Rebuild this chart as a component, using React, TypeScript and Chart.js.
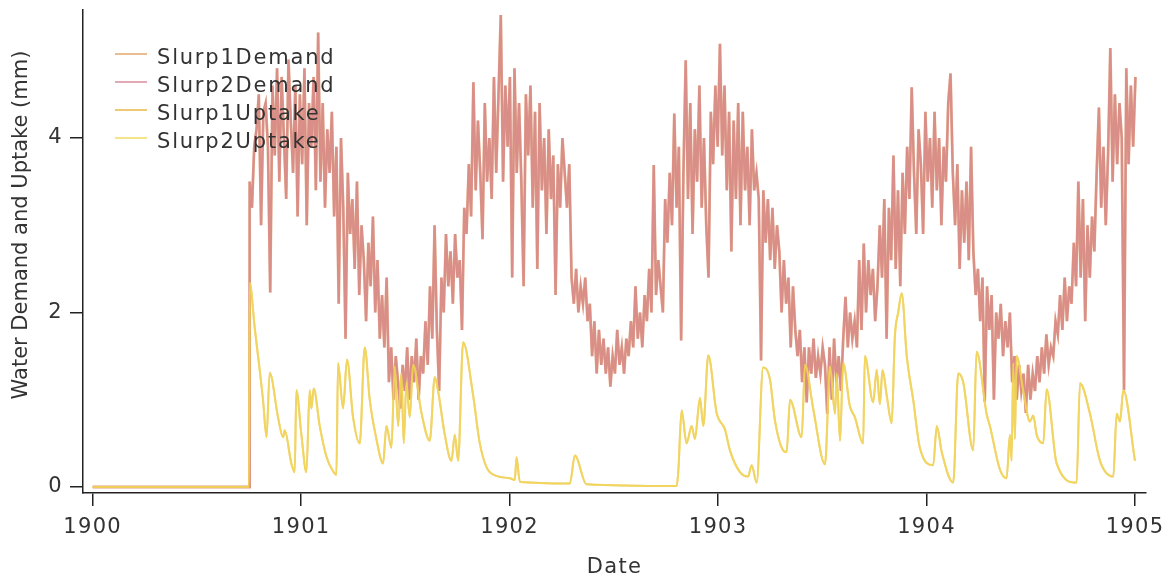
import React, { useEffect, useRef } from "react";
import { Chart, registerables } from "chart.js";

Chart.register(...registerables);

// ---------- data ----------
const seriesNames = ["Slurp1Demand", "Slurp2Demand", "Slurp1Uptake", "Slurp2Uptake"];
const xTickYears = [1900, 1901, 1902, 1903, 1904, 1905];
const yTickValues = [0, 2, 4];
const xTitle = "Date";
const yTitle = "Water Demand and Uptake (mm)";

// demand is zero until the crop emerges, then sampled every 4 days
const demandLeadYears = [1900.0, 1900.75];
const demandLeadValues = [0, 0];
const demandStartYear = 1900.753;
const demandStepDays = 4;
const slurp1Demand = [
  // 1900.75 - 1901.1
  3.5, 3.2, 3.9, 4.1, 4.5, 3.0, 4.3, 4.4, 3.9, 2.23,
  4.6, 3.8, 4.8, 3.5, 4.7, 4.0, 3.3, 4.9, 4.2, 3.6,
  4.6, 3.1, 4.5, 3.7, 4.8, 3.0, 4.4, 3.9, 4.7, 3.4,
  5.21, 3.5, 4.4, 3.2, 4.1, 3.6, 4.3, 3.1, 3.9, 2.1,
  4.0, 3.2, 1.7, 3.6, 2.9, 3.3, 2.5, 3.5, 2.2, 3.0,
  // 1901.3 - 1901.75
  2.6, 1.9, 2.8, 2.3, 3.1, 2.0, 2.6, 1.7, 2.2, 1.6,
  2.4, 1.2, 1.6, 1.0, 1.5, 1.2, 0.9, 1.4, 1.1, 1.6,
  1.0, 1.5, 1.2, 1.7, 1.0, 1.5, 1.3, 1.9, 1.4, 2.3,
  1.7, 3.0, 1.8, 1.1, 2.4, 2.0, 2.9, 2.3, 2.7, 2.1,
  2.9, 2.4, 2.6, 1.8, 3.2, 2.9, 3.7, 3.1, 4.64, 3.4,
  // 1901.85 - 1902.4
  4.2, 3.6, 2.84, 4.4, 3.5, 4.0, 3.3, 4.7, 3.6, 4.5,
  5.41, 3.5, 4.6, 3.9, 4.7, 2.4, 4.8, 3.6, 4.4, 3.5,
  2.3, 4.5, 3.8, 4.6, 3.2, 4.3, 2.5, 4.4, 3.4, 4.0,
  2.9, 4.1, 3.3, 3.8, 2.2, 3.7, 3.2, 4.0, 3.6, 3.2,
  3.7, 2.4, 2.1, 2.5, 2.0, 2.3, 2.1, 2.4, 1.9, 2.1,
  // 1902.4 - 1902.9
  1.5, 1.9, 1.3, 1.8, 1.4, 1.7, 1.3, 1.6, 1.15, 1.5,
  1.3, 1.8, 1.4, 1.6, 1.3, 1.7, 1.5, 1.9, 1.6, 2.3,
  1.7, 2.0, 1.6, 2.2, 1.9, 2.5, 2.0, 3.69, 2.2, 2.6,
  2.3, 2.0, 3.3, 2.8, 3.6, 3.0, 4.28, 3.2, 3.9, 1.68,
  3.6, 4.89, 3.3, 4.4, 2.9, 4.1, 3.5, 4.6, 3.2, 4.0,
  // 1902.95 - 1903.45
  3.0, 2.4, 4.3, 3.7, 4.6, 3.9, 5.08, 3.8, 4.6, 3.4,
  4.3, 2.7, 4.2, 3.3, 4.4, 3.0, 4.3, 3.4, 3.9, 3.0,
  4.1, 3.4, 3.6, 3.3, 1.45, 3.4, 2.8, 3.3, 2.6, 3.2,
  2.5, 3.0, 2.7, 2.0, 2.6, 2.1, 2.4, 1.6, 2.3, 1.8,
  1.5, 1.8, 1.2, 1.6, 0.97, 1.6, 1.3, 1.7, 1.25, 1.5,
  // 1903.5 - 1904.0
  1.3, 1.6, 1.4, 0.84, 1.6, 1.0, 1.7, 1.2, 1.5, 1.1,
  1.7, 2.18, 1.6, 2.0, 1.7, 1.9, 1.6, 2.6, 1.8, 2.79,
  2.0, 2.6, 2.2, 2.5, 1.9, 2.3, 3.0, 2.4, 3.3, 1.7,
  3.2, 2.6, 3.8, 2.5, 3.4, 2.3, 3.6, 2.9, 3.9, 3.3,
  4.58, 3.6, 2.9, 4.1, 3.7, 2.9, 4.3, 3.5, 4.0, 3.2,
  // 1904.05 - 1904.55
  4.3, 3.4, 4.0, 3.0, 3.9, 3.5, 4.4, 4.74, 3.6, 3.0,
  3.7, 2.5, 3.4, 2.8, 3.5, 2.6, 3.9, 2.7, 2.2, 2.5,
  1.9, 2.4, 0.98, 2.3, 1.8, 2.2, 1.0, 2.0, 1.7, 2.1,
  1.5, 1.9, 1.6, 2.0, 1.2, 1.5, 1.0, 1.4, 1.1, 1.3,
  0.85, 1.4, 1.0, 1.3, 1.1, 1.5, 1.2, 1.6, 1.3, 1.75,
  // 1904.6 - 1905.0
  1.4, 1.6, 1.5, 1.9, 1.75, 2.2, 1.8, 2.4, 1.9, 2.3,
  2.1, 2.8, 2.3, 3.5, 2.4, 3.3, 1.9, 3.0, 2.4, 3.1,
  2.7, 3.6, 4.35, 3.2, 3.9, 3.0, 3.8, 5.03, 3.5, 4.5,
  3.7, 4.4, 4.0, 1.11, 4.8, 3.7, 4.6, 3.9, 4.7,
];
// the two demand series lie on top of each other
const slurp2Demand = slurp1Demand;

const uptakeYears = [
  1900.0, 1900.75, 1900.753, 1900.777, 1900.817, 1900.834, 1900.849, 1900.889, 1900.913, 1900.921,
  1900.953, 1900.969, 1900.977, 1901.001, 1901.025, 1901.041, 1901.049, 1901.06, 1901.089, 1901.121,
  1901.153, 1901.169, 1901.177, 1901.201, 1901.22, 1901.249, 1901.281, 1901.305, 1901.329, 1901.361,
  1901.393, 1901.409, 1901.433, 1901.449, 1901.465, 1901.481, 1901.492, 1901.505, 1901.521, 1901.537,
  1901.577, 1901.617, 1901.641, 1901.657, 1901.689, 1901.721, 1901.737, 1901.753, 1901.777, 1901.825,
  1901.857, 1901.905, 1902.001, 1902.025, 1902.033, 1902.049, 1902.289, 1902.313, 1902.369, 1902.801,
  1902.809, 1902.825, 1902.849, 1902.873, 1902.889, 1902.913, 1902.929, 1902.953, 1902.993, 1903.033,
  1903.057, 1903.105, 1903.144, 1903.161, 1903.185, 1903.216, 1903.249, 1903.273, 1903.312, 1903.329,
  1903.345, 1903.401, 1903.417, 1903.456, 1903.513, 1903.537, 1903.561, 1903.569, 1903.585, 1903.6,
  1903.632, 1903.656, 1903.696, 1903.704, 1903.744, 1903.761, 1903.776, 1903.789, 1903.809, 1903.833,
  1903.848, 1903.864, 1903.881, 1903.905, 1903.936, 1903.968, 1904.032, 1904.049, 1904.073, 1904.128,
  1904.152, 1904.176, 1904.224, 1904.24, 1904.288, 1904.304, 1904.352, 1904.384, 1904.4, 1904.408,
  1904.416, 1904.424, 1904.432, 1904.464, 1904.496, 1904.512, 1904.528, 1904.56, 1904.576, 1904.624,
  1904.72, 1904.736, 1904.784, 1904.832, 1904.896, 1904.912, 1904.928, 1904.944, 1905.0,
];
const slurp1Uptake = [
  0, 0, 2.34, 1.83, 1.0, 0.57, 1.31, 0.8, 0.57, 0.65,
  0.27, 0.17, 1.11, 0.6, 0.17, 1.11, 0.9, 1.13, 0.7, 0.35,
  0.18, 0.14, 1.42, 0.9, 1.46, 0.8, 0.5, 1.6, 1.0, 0.55,
  0.27, 0.7, 0.45, 1.38, 0.7, 1.3, 0.5, 1.2, 0.8, 1.4,
  0.85, 0.53, 1.26, 1.1, 0.6, 0.3, 0.6, 0.3, 1.66, 1.05,
  0.5, 0.17, 0.1, 0.08, 0.34, 0.06, 0.04, 0.36, 0.03, 0.01,
  0.17, 0.88, 0.5, 0.7, 0.55, 1.02, 0.7, 1.51, 0.85, 0.66,
  0.42, 0.17, 0.12, 0.25, 0.05, 1.37, 1.23, 0.76, 0.42, 0.4,
  1.0, 0.57, 1.4, 0.9, 0.26, 1.38, 0.84, 1.3, 0.53, 1.42,
  0.93, 0.8, 0.5, 1.5, 0.97, 1.34, 0.95, 1.34, 1.05, 0.73,
  1.72, 2.0, 2.22, 1.5, 1.0, 0.45, 0.25, 0.7, 0.4, 0.05,
  1.3, 1.2, 0.42, 1.55, 0.84, 0.7, 0.2, 0.1, 0.6, 0.3,
  1.42, 0.55, 1.5, 1.1, 0.75, 0.82, 0.6, 0.5, 1.12, 0.27,
  0.05, 1.19, 0.84, 0.3, 0.12, 0.84, 0.75, 1.11, 0.3,
];
// the two uptake series lie on top of each other
const slurp2Uptake = slurp1Uptake;

const seriesColors = [
  "rgba(228,172,118,0.8)",
  "rgba(208,112,132,0.6)",
  "rgba(234,188,80,0.8)",
  "rgba(242,218,85,0.7)",
];

// ---------- style ----------
const FONT_FAMILY = '"DejaVu Sans", sans-serif';
const TEXT_COLOR = "#333333";
const AXIS_COLOR = "#222222";
const LETTER_SPACING = "1.3px";
const LEGEND_LETTER_SPACING = "1.8px";

const overlayPlugin = {
  id: "overlay",
  beforeLayout(chart: any) {
    chart.ctx.letterSpacing = LETTER_SPACING;
  },
  beforeDraw(chart: any) {
    chart.ctx.letterSpacing = LETTER_SPACING;
  },
  afterDraw(chart: any) {
    const ctx = chart.ctx as CanvasRenderingContext2D;
    const area = chart.chartArea;
    ctx.save();
    // legend (upper left, inside the axes)
    (ctx as any).letterSpacing = LEGEND_LETTER_SPACING;
    ctx.font = `21px ${FONT_FAMILY}`;
    ctx.textBaseline = "alphabetic";
    ctx.textAlign = "left";
    seriesNames.forEach((name, k) => {
      const y = area.top + 44 + k * 28;
      ctx.strokeStyle = seriesColors[k];
      ctx.lineWidth = 2;
      ctx.beginPath();
      ctx.moveTo(area.left + 32, y);
      ctx.lineTo(area.left + 64, y);
      ctx.stroke();
      ctx.fillStyle = TEXT_COLOR;
      ctx.fillText(name, area.left + 74, y + 10);
    });
    // y axis title
    (ctx as any).letterSpacing = "0px";
    ctx.translate(22, 225);
    ctx.rotate(-Math.PI / 2);
    ctx.textAlign = "center";
    ctx.textBaseline = "middle";
    ctx.fillStyle = TEXT_COLOR;
    ctx.fillText(yTitle, 0, 0);
    ctx.restore();
    (ctx as any).letterSpacing = LETTER_SPACING;
  },
};

const zeroPadding = (s: any) => {
  s.paddingLeft = 0;
  s.paddingRight = 0;
  s.paddingTop = 0;
  s.paddingBottom = 0;
};

export default function App() {
  const ref = useRef<HTMLCanvasElement>(null);

  useEffect(() => {
    const canvas = ref.current;
    if (!canvas) return;
    const demandYears = [
      ...demandLeadYears,
      ...slurp1Demand.map((_, i) => demandStartYear + (i * demandStepDays) / 365.25),
    ];
    const toPoints = (xs: number[], ys: number[]) => xs.map((x, i) => ({ x, y: ys[i] }));
    const d1 = toPoints(demandYears, [...demandLeadValues, ...slurp1Demand]);
    const d2 = toPoints(demandYears, [...demandLeadValues, ...slurp2Demand]);
    const u1 = toPoints(uptakeYears, slurp1Uptake);
    const u2 = toPoints(uptakeYears, slurp2Uptake);

    const tickFont = { family: FONT_FAMILY, size: 21 };

    const chart = new Chart(canvas, {
      type: "line",
      data: {
        datasets: [
          { label: seriesNames[0], data: d1, borderColor: seriesColors[0], borderWidth: 2.8, order: 4 },
          { label: seriesNames[1], data: d2, borderColor: seriesColors[1], borderWidth: 2.4, order: 3 },
          { label: seriesNames[2], data: u1, borderColor: seriesColors[2], borderWidth: 2, order: 2, cubicInterpolationMode: "monotone" },
          { label: seriesNames[3], data: u2, borderColor: seriesColors[3], borderWidth: 2, order: 1, cubicInterpolationMode: "monotone" },
        ] as any,
      },
      options: {
        responsive: false,
        animation: false,
        events: [],
        layout: { padding: { top: 10, right: 20, left: 0, bottom: 0 } },
        elements: { point: { radius: 0 }, line: { tension: 0 } },
        plugins: { legend: { display: false }, tooltip: { enabled: false } },
        scales: {
          x: {
            type: "linear",
            min: 1899.9535,
            max: 1905.0528,
            afterFit: (s: any) => {
              s.height = 87;
              zeroPadding(s);
            },
            afterBuildTicks: (s: any) => {
              s.ticks = xTickYears.map((v) => ({ value: v }));
            },
            ticks: {
              callback: (v: any) => String(v),
              font: tickFont,
              color: TEXT_COLOR,
              padding: 9,
              maxRotation: 0,
              autoSkip: false,
            },
            grid: { drawOnChartArea: false, drawTicks: true, tickLength: 13, color: AXIS_COLOR, lineWidth: 1.5 },
            border: { display: true, color: AXIS_COLOR, width: 1.5 },
            title: {
              display: true,
              text: xTitle,
              font: { family: FONT_FAMILY, size: 21 },
              color: TEXT_COLOR,
              padding: { top: 0, bottom: 0 },
            },
          },
          y: {
            type: "linear",
            min: -0.069,
            max: 5.467,
            afterFit: (s: any) => {
              s.width = 83;
              zeroPadding(s);
            },
            afterBuildTicks: (s: any) => {
              s.ticks = yTickValues.map((v) => ({ value: v }));
            },
            ticks: {
              callback: (v: any) => String(v),
              font: tickFont,
              color: TEXT_COLOR,
              padding: 7,
              autoSkip: false,
            },
            grid: { drawOnChartArea: false, drawTicks: true, tickLength: 13, color: AXIS_COLOR, lineWidth: 1.5 },
            border: { display: true, color: AXIS_COLOR, width: 1.5 },
          },
        },
      } as any,
      plugins: [overlayPlugin as any],
    });
    return () => chart.destroy();
  }, []);

  return (
    <div style={{ width: 1166, height: 580, background: "#ffffff" }}>
      <style>{"body{margin:0;background:#fff}"}</style>
      <canvas ref={ref} width={1166} height={580} style={{ display: "block" }} />
    </div>
  );
}
